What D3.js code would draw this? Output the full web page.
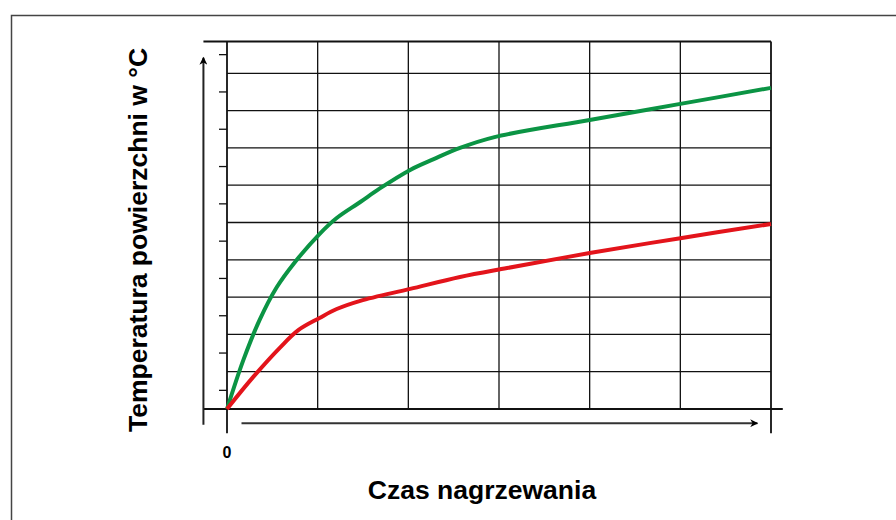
<!DOCTYPE html>
<html>
<head>
<meta charset="utf-8">
<script src="https://cdn.jsdelivr.net/npm/d3@7"></script>
<style>
  body { margin: 0; background: #fff; }
  svg { display: block; font-family: "Liberation Sans", Arial, sans-serif; }
</style>
</head>
<body>
<div id="chart"></div>
<script>
// time in grid columns, temperature in grid rows (no units on the original)
const greenX = [0, 0.18, 0.36, 0.55, 0.74, 1.02, 1.21, 1.47, 1.69, 2.02, 2.28, 2.57, 2.95, 4.0, 5.0, 6.0];
const greenY = [0, 1.31, 2.39, 3.27, 3.91, 4.69, 5.12, 5.55, 5.92, 6.41, 6.70, 7.0, 7.29, 7.75, 8.18, 8.61];
const redX = [0, 0.29, 0.59, 0.79, 1.02, 1.21, 1.47, 2.02, 2.57, 3.09, 4.0, 5.0, 6.0];
const redY = [0, 0.86, 1.66, 2.12, 2.44, 2.68, 2.9, 3.22, 3.54, 3.78, 4.18, 4.58, 4.96];
const xGrid = [0, 1, 2, 3, 4, 5, 6];
const yGrid = [0, 1, 2, 3, 4, 5, 6, 7, 8, 9];
const yMinor = [0.5, 1.5, 2.5, 3.5, 4.5, 5.5, 6.5, 7.5, 8.5, 9.5];
const yTop = 9.85;
const xLabel = "Czas nagrzewania";
const yLabel = "Temperatura powierzchni w °C";
const originLabel = "0";

const width = 896, height = 520;
const margin = { left: 227, right: 125, top: 73.3, bottom: 111 };

const svg = d3.select("#chart").append("svg")
  .attr("width", width)
  .attr("height", height);

const x = d3.scaleLinear().domain([0, 6]).range([margin.left, width - margin.right]);
const y = d3.scaleLinear().domain([0, 9]).range([height - margin.bottom, margin.top]);

// outer frame (runs off the page to the right and bottom)
svg.append("path")
  .attr("d", `M11.5,${height + 5} V15.5 H${width + 5}`)
  .attr("fill", "none")
  .attr("stroke", "#444")
  .attr("stroke-width", 1.5);

// grid
const grid = svg.append("g").attr("stroke", "#111").attr("stroke-width", 1.3);

grid.selectAll(".hline")
  .data(yGrid.slice(1))
  .join("line")
  .attr("x1", x(0)).attr("x2", x(6))
  .attr("y1", (d) => y(d)).attr("y2", (d) => y(d));

grid.selectAll(".vline")
  .data(xGrid.slice(1, -1))
  .join("line")
  .attr("x1", (d) => x(d)).attr("x2", (d) => x(d))
  .attr("y1", y(yTop)).attr("y2", y(0));

// top border of the plot
grid.append("line")
  .attr("x1", x(-0.26)).attr("x2", x(6))
  .attr("y1", y(yTop)).attr("y2", y(yTop))
  .attr("stroke-width", 2);

// left axis line
grid.append("line")
  .attr("x1", x(0)).attr("x2", x(0))
  .attr("y1", y(yTop)).attr("y2", y(-0.65))
  .attr("stroke-width", 1.8);

// right axis line
grid.append("line")
  .attr("x1", x(6)).attr("x2", x(6))
  .attr("y1", y(yTop)).attr("y2", y(-0.65))
  .attr("stroke-width", 1.8);

// bottom axis line
grid.append("line")
  .attr("x1", x(-0.26)).attr("x2", x(6.13))
  .attr("y1", y(0)).attr("y2", y(0))
  .attr("stroke-width", 1.8);

// minor ticks on the left
grid.selectAll(".minor")
  .data(yMinor)
  .join("line")
  .attr("x1", x(0) - 8).attr("x2", x(0))
  .attr("y1", (d) => y(d)).attr("y2", (d) => y(d));

// arrows
const defs = svg.append("defs");
defs.append("marker")
  .attr("id", "arrow")
  .attr("viewBox", "0 0 10 10")
  .attr("refX", 9).attr("refY", 5)
  .attr("markerWidth", 5).attr("markerHeight", 4)
  .attr("markerUnits", "strokeWidth")
  .attr("orient", "auto")
  .append("path")
  .attr("d", "M0,0 L10,5 L0,10 L3,5 Z")
  .attr("fill", "#000");

svg.append("line")
  .attr("x1", x(-0.26)).attr("x2", x(-0.26))
  .attr("y1", y(-0.42)).attr("y2", y(9.42))
  .attr("stroke", "#222").attr("stroke-width", 2)
  .attr("marker-end", "url(#arrow)");

svg.append("line")
  .attr("x1", x(0.16)).attr("x2", x(5.85))
  .attr("y1", y(-0.38)).attr("y2", y(-0.38))
  .attr("stroke", "#333").attr("stroke-width", 2)
  .attr("marker-end", "url(#arrow)");

// curves
const line = d3.line()
  .x((d) => x(d[0]))
  .y((d) => y(d[1]))
  .curve(d3.curveCatmullRom.alpha(0.5));

svg.append("path")
  .datum(greenX.map((v, i) => [v, greenY[i]]))
  .attr("fill", "none")
  .attr("stroke", "#0b9444")
  .attr("stroke-width", 4)
  .attr("d", line);

svg.append("path")
  .datum(redX.map((v, i) => [v, redY[i]]))
  .attr("fill", "none")
  .attr("stroke", "#e3141b")
  .attr("stroke-width", 4)
  .attr("d", line);

// labels
svg.append("text")
  .attr("x", x(0))
  .attr("y", 458)
  .attr("text-anchor", "middle")
  .style("font-size", "16px")
  .style("font-weight", "bold")
  .text(originLabel);

svg.append("text")
  .attr("x", x(3) - 17)
  .attr("y", 499)
  .attr("text-anchor", "middle")
  .style("font-size", "26.5px")
  .style("font-weight", "bold")
  .text(xLabel);

svg.append("text")
  .attr("transform", `translate(147, 240) rotate(-90)`)
  .attr("text-anchor", "middle")
  .style("font-size", "26.5px")
  .style("font-weight", "bold")
  .text(yLabel);
</script>
</body>
</html>
